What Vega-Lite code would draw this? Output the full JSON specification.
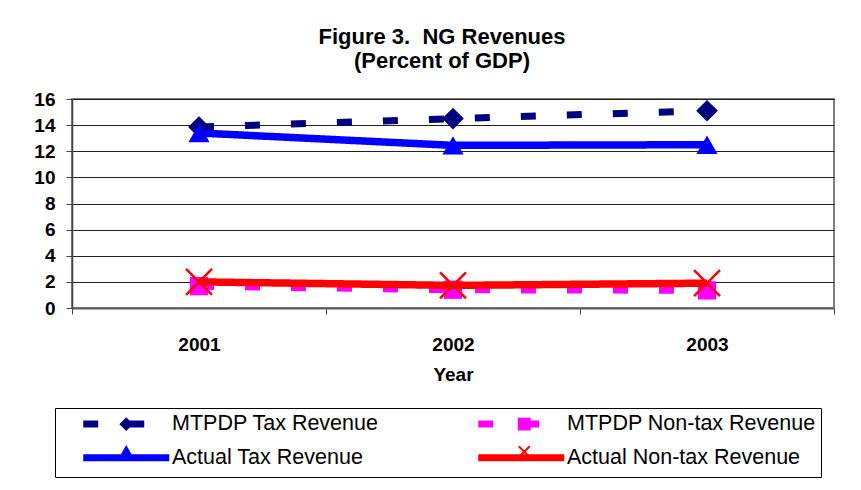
{
  "$schema": "https://vega.github.io/schema/vega-lite/v6.json",
  "autosize": {"type": "none"},
  "padding": {"left": 72, "top": 99, "right": 27, "bottom": 182},
  "width": 762,
  "height": 209,
  "background": "white",
  "title": {
    "text": ["Figure 3.\u00a0 NG Revenues", "(Percent of GDP)"],
    "font": "Liberation Sans",
    "fontSize": 22,
    "fontWeight": "bold",
    "lineHeight": 24,
    "color": "black",
    "anchor": "middle",
    "frame": "group",
    "dx": -11,
    "offset": 17
  },
  "data": {
    "values": [
      {"year": "2001", "series": "MTPDP Tax Revenue", "marker": "D", "value": 13.85},
      {"year": "2002", "series": "MTPDP Tax Revenue", "marker": "D", "value": 14.5},
      {"year": "2003", "series": "MTPDP Tax Revenue", "marker": "D", "value": 15.1},
      {"year": "2001", "series": "MTPDP Non-tax Revenue", "marker": "S", "value": 1.67},
      {"year": "2002", "series": "MTPDP Non-tax Revenue", "marker": "S", "value": 1.4},
      {"year": "2003", "series": "MTPDP Non-tax Revenue", "marker": "S", "value": 1.35},
      {"year": "2001", "series": "Actual Tax Revenue", "marker": "T", "value": 13.4},
      {"year": "2002", "series": "Actual Tax Revenue", "marker": "T", "value": 12.45},
      {"year": "2003", "series": "Actual Tax Revenue", "marker": "T", "value": 12.5},
      {"year": "2001", "series": "Actual Non-tax Revenue", "marker": "X", "value": 2.0},
      {"year": "2002", "series": "Actual Non-tax Revenue", "marker": "X", "value": 1.73},
      {"year": "2003", "series": "Actual Non-tax Revenue", "marker": "X", "value": 1.9}
    ]
  },
  "encoding": {
    "x": {
      "field": "year",
      "type": "ordinal",
      "scale": {"type": "band", "paddingInner": 0, "paddingOuter": 0},
      "axis": {
        "title": "Year",
        "labelAngle": 0,
        "labelFont": "Liberation Sans",
        "labelFontSize": 19,
        "labelFontWeight": "bold",
        "labelColor": "black",
        "labelPadding": 21,
        "tickSize": 6,
        "tickBand": "extent",
        "tickColor": "#404040",
        "domainColor": "#606060",
        "domainWidth": 2,
        "titleFont": "Liberation Sans",
        "titleFontSize": 19,
        "titleFontWeight": "bold",
        "titleColor": "black",
        "titleBaseline": "alphabetic",
        "titleY": 72,
        "grid": false
      }
    },
    "y": {
      "field": "value",
      "type": "quantitative",
      "scale": {"domain": [0, 16], "nice": false},
      "axis": {
        "title": null,
        "values": [0, 2, 4, 6, 8, 10, 12, 14, 16],
        "labelFont": "Liberation Sans",
        "labelFontSize": 19,
        "labelFontWeight": "bold",
        "labelColor": "black",
        "labelPadding": 11,
        "tickSize": 6,
        "tickColor": "#404040",
        "domainColor": "#404040",
        "domainWidth": 1.5,
        "grid": true,
        "gridColor": "#202020",
        "gridWidth": 1,
        "gridOpacity": 1
      }
    }
  },
  "layer": [
    {
      "transform": [{"filter": "indexof(datum.series, 'MTPDP') === 0"}],
      "mark": {"type": "line", "strokeWidth": 7},
      "encoding": {
        "color": {
          "field": "series",
          "type": "nominal",
          "scale": {
            "domain": ["MTPDP Tax Revenue", "MTPDP Non-tax Revenue", "Actual Tax Revenue", "Actual Non-tax Revenue"],
            "range": ["#000080", "#FF00FF", "#0000FF", "#FF0000"]
          },
          "legend": {
            "orient": "none",
            "direction": "horizontal",
            "legendX": -17,
            "legendY": 309,
            "columns": 2,
            "title": null,
            "symbolType": "M-21.5,0L21.5,0",
            "symbolSize": 16,
            "symbolStrokeWidth": 7,
            "symbolOffset": 55.5,
            "labelOffset": 35,
            "labelFont": "Liberation Sans",
            "labelFontSize": 21.5,
            "labelColor": "black",
            "labelLimit": 0,
            "padding": 5,
            "strokeColor": "black",
            "rowPadding": 5,
            "columnPadding": 76,
            "symbolLimit": 0
          }
        },
        "strokeDash": {
          "field": "series",
          "type": "nominal",
          "scale": {
            "domain": ["MTPDP Tax Revenue", "MTPDP Non-tax Revenue", "Actual Tax Revenue", "Actual Non-tax Revenue"],
            "range": [[15, 31], [15, 31], [1, 0], [1, 0]]
          }
        }
      }
    },
    {
      "transform": [{"filter": "datum.marker === 'D'"}],
      "mark": {"type": "point", "filled": true, "opacity": 1, "size": 470},
      "encoding": {
        "shape": {"field": "marker", "type": "nominal"},
        "fill": {"field": "marker", "type": "nominal"}
      }
    },
    {
      "transform": [{"filter": "datum.marker === 'S'"}],
      "mark": {"type": "point", "filled": true, "opacity": 1, "size": 335},
      "encoding": {
        "shape": {"field": "marker", "type": "nominal"},
        "fill": {"field": "marker", "type": "nominal"}
      }
    },
    {
      "transform": [{"filter": "indexof(datum.series, 'Actual') === 0"}],
      "mark": {"type": "line", "strokeWidth": 7.5},
      "encoding": {
        "color": {"field": "series", "type": "nominal"},
        "strokeDash": {"field": "series", "type": "nominal"}
      }
    },
    {
      "transform": [{"filter": "datum.marker === 'T'"}],
      "mark": {"type": "point", "filled": true, "opacity": 1, "size": 450},
      "encoding": {
        "shape": {"field": "marker", "type": "nominal"},
        "fill": {
          "field": "marker",
          "type": "nominal",
          "scale": {
            "domain": ["D", "S", "T", "X"],
            "range": ["#000080", "#FF00FF", "#0000FF", "#FF0000"]
          }
        }
      }
    },
    {
      "transform": [{"filter": "datum.marker === 'X'"}],
      "mark": {"type": "point", "filled": false, "opacity": 1, "size": 676, "strokeWidth": 2.5},
      "encoding": {
        "stroke": {
          "field": "marker",
          "type": "nominal",
          "scale": {
            "domain": ["D", "S", "T", "X"],
            "range": ["#000080", "#FF00FF", "#0000FF", "#FF0000"]
          }
        },
        "shape": {
          "field": "marker",
          "type": "nominal",
          "scale": {
            "domain": ["D", "S", "T", "X"],
            "range": ["diamond", "square", "triangle-up", "M-1,-1L1,1M-1,1L1,-1"]
          },
          "legend": {
            "orient": "none",
            "direction": "horizontal",
            "legendX": -17,
            "legendY": 309,
            "columns": 2,
            "title": null,
            "symbolSize": 120,
            "symbolStrokeWidth": 2,
            "symbolOffset": 55.5,
            "labelOffset": 35,
            "labelFont": "Liberation Sans",
            "labelFontSize": 21.5,
            "labelLimit": 0,
            "labelExpr": "''",
            "padding": 5,
            "rowPadding": 5,
            "columnPadding": 286,
            "symbolLimit": 0
          }
        }
      }
    }
  ],
  "config": {
    "view": {"stroke": "#808080", "strokeWidth": 2},
    "font": "Liberation Sans"
  }
}
